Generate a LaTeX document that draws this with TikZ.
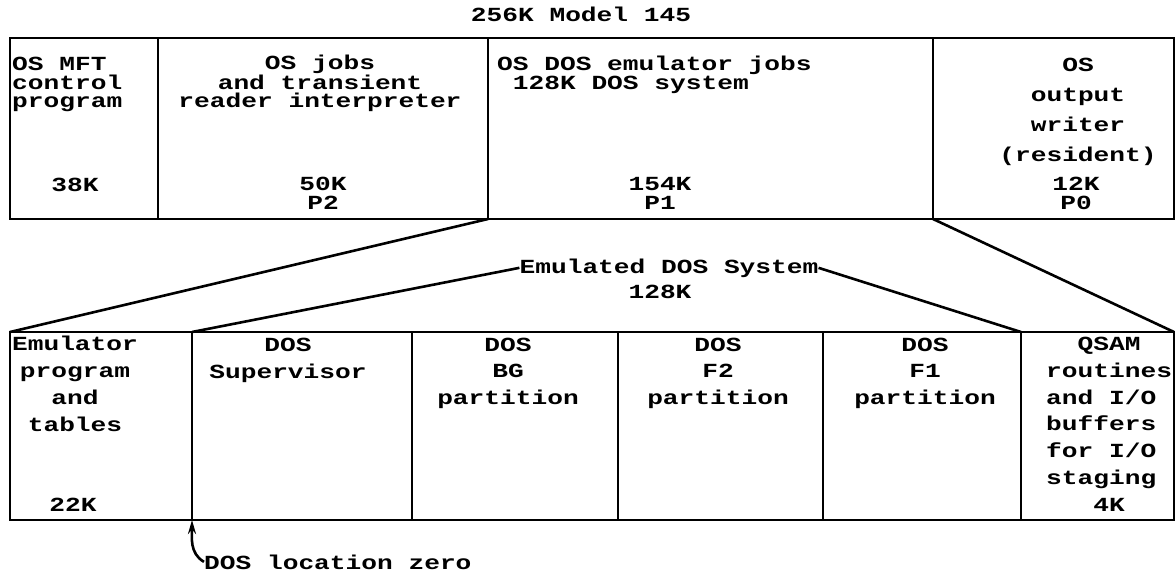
\documentclass[tikz,border=0pt]{standalone}
\usepackage{fontspec}
\usetikzlibrary{arrows.meta, positioning}
\newfontfamily\tyfont[FakeStretch=1.31]{Liberation Mono}
\tikzset{
  cell/.style={draw, line width=2.6pt, inner sep=0pt, outer sep=0pt},
  toptext/.style={font={\tyfont\bfseries\fontsize{20}{18.5}\selectfont}, inner sep=0pt, anchor=base, align=center},
  lowtext/.style={font={\tyfont\bfseries\fontsize{20}{26.7}\selectfont}, inner sep=0pt, anchor=base, align=center},
  link/.style={line width=2.6pt},
}

\begin{document}
\begin{tikzpicture}[x=1pt, y=-1pt]
  \useasboundingbox (0,0) rectangle (1176,573);
  \node[toptext] (title) at (581,21) {256K Model 145};

  % Model 145 storage (text nodes sit on the baseline of their last line)
  \node[cell, minimum width=148pt, minimum height=181pt] (mft) at (84,128.5) {};
  \node[cell, minimum width=330pt, minimum height=181pt] (osj) at (323,128.5) {};
  \node[cell, minimum width=445pt, minimum height=181pt] (emujobs) at (710.5,128.5) {};
  \node[cell, minimum width=241pt, minimum height=181pt] (writer) at (1053.5,128.5) {};

  \node[toptext, anchor=base west, align=left] (mfttext) at (12,107.5) {OS MFT\\control\\program};
  \node[toptext] (mftsize) at (75,191) {38K};
  \node[toptext] (osjtext) at (320,107.5) {OS jobs\\and transient\\reader interpreter};
  \node[toptext] (osjsize) at (323,209) {50K\\P2};
  \node[toptext, anchor=base west, align=left] (emujobstext) at (497,89) {OS DOS emulator jobs\\~128K DOS system};
  \node[toptext] (emujobssize) at (660,209) {154K\\P1};
  \node[toptext, font={\tyfont\bfseries\fontsize{20}{30}\selectfont}] (writertext) at (1078,161) {OS\\output\\writer\\(resident)};
  \node[toptext] (writersize) at (1076,209) {12K\\P0};

  % emulated DOS system
  \node[lowtext] (emudos) at (669,273) {Emulated DOS System};
  \node[lowtext] (emusize) at (660,298) {128K};

  \node[cell, minimum width=182pt, minimum height=188pt] (emuprog) at (101,426) {};
  \node[cell, minimum width=220pt, minimum height=188pt] (sup) at (302,426) {};
  \node[cell, minimum width=206pt, minimum height=188pt] (bg) at (515,426) {};
  \node[cell, minimum width=205pt, minimum height=188pt] (ftwo) at (720.5,426) {};
  \node[cell, minimum width=198pt, minimum height=188pt] (fone) at (922,426) {};
  \node[cell, minimum width=153pt, minimum height=188pt] (qsam) at (1097.5,426) {};

  \node[lowtext] (emuprogtext) at (75,431) {Emulator\\program\\and\\tables};
  \node[lowtext] (emuprogsize) at (73,511) {22K};
  \node[lowtext] (suptext) at (288,378) {DOS\\Supervisor};
  \node[lowtext] (bgtext) at (508,404.5) {DOS\\BG\\partition};
  \node[lowtext] (ftwotext) at (718,404.5) {DOS\\F2\\partition};
  \node[lowtext] (fonetext) at (925,404.5) {DOS\\F1\\partition};
  \node[lowtext, anchor=base west, align=left] (qsamtext) at (1046,511) {~~QSAM\\routines\\and I/O\\buffers\\for I/O\\staging\\~~~4K};

  \node[lowtext, anchor=base west] (loc) at (204,569) {DOS location zero};

  % expansion lines
  \draw[link] (emujobs.south west) -- (emuprog.north west);
  \draw[link] (emujobs.south east) -- (qsam.north east);
  \draw[link] (emudos.west) -- (sup.north west);
  \draw[link] (emudos.east) -- (qsam.north west);
  \draw[link, -{Stealth[length=14pt, width=8pt]}] (loc.west) to[out=150, in=-90] (sup.south west);
\end{tikzpicture}
\end{document}
